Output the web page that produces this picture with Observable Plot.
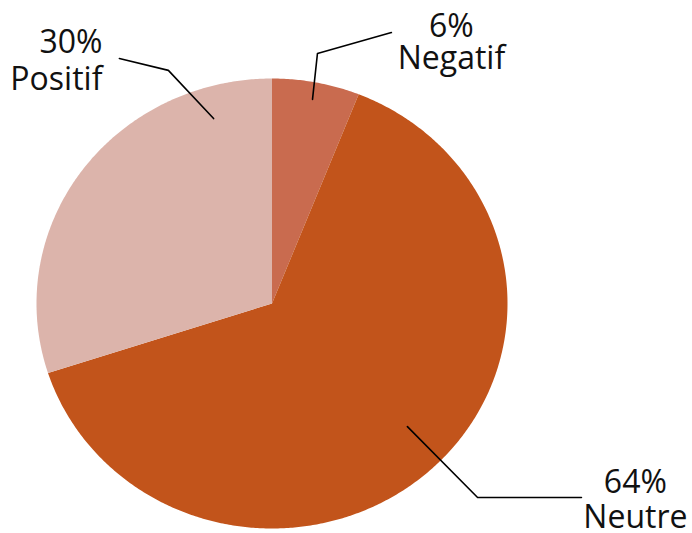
<!DOCTYPE html>
<html>
<head>
<meta charset="utf-8">
<script src="https://cdn.jsdelivr.net/npm/d3@7"></script>
<script src="https://cdn.jsdelivr.net/npm/@observablehq/plot@0.6"></script>
<style>
  html, body { margin: 0; padding: 0; background: #ffffff; }
  #chart svg { display: block; }
</style>
</head>
<body>
<div id="chart"></div>
<script>
// ---- data ----
const categories = ["Negatif", "Neutre", "Positif"];
const shares = [6, 64, 30];
const percentLabels = ["6%", "64%", "30%"];
const sliceColors = ["#c96b4f", "#c2541b", "#dcb4ab"];

// ---- layout for callouts (in pie units: radius = 1, y up) ----
const leaderLayout = [
  { name: "Negatif", pts: [[0.172, 0.907], [0.193, 1.111], [0.507, 1.204]], lab: [0.762, 1.044], anchor: "middle", lh: 1.0 },
  { name: "Neutre",  pts: [[0.575, -0.547], [0.873, -0.862], [1.314, -0.862]], lab: [1.543, -0.996], anchor: "middle", lh: 1.094 },
  { name: "Positif", pts: [[-0.248, 0.822], [-0.44, 1.036], [-0.648, 1.089]], lab: [-0.72, 0.947], anchor: "end", lh: 1.156 }
];

// ---- build slice polygons from the shares ----
const total = d3.sum(shares);
const slices = [];
let acc = 0;
categories.forEach((name, i) => {
  const a0 = acc / total * 2 * Math.PI;
  acc += shares[i];
  const a1 = acc / total * 2 * Math.PI;
  const n = Math.max(2, Math.ceil((a1 - a0) / (Math.PI / 360)));
  slices.push({ name, x: 0, y: 0 });
  for (let k = 0; k <= n; k++) {
    const a = a0 + (a1 - a0) * k / n;
    slices.push({ name, x: Math.sin(a), y: Math.cos(a) });
  }
  slices.push({ name, x: 0, y: 0 });
});

const leaderPts = leaderLayout.flatMap(d => d.pts.map(([x, y]) => ({ name: d.name, x, y })));

const labelMarks = leaderLayout.map(d => {
  const i = categories.indexOf(d.name);
  return Plot.text([{ x: d.lab[0], y: d.lab[1], text: percentLabels[i] + "\n" + d.name }], {
    x: "x", y: "y", text: "text", fontSize: 32, fill: "#111",
    textAnchor: d.anchor, lineAnchor: "bottom", lineHeight: d.lh
  });
});

const chart = Plot.plot({
  width: 692,
  height: 533,
  margin: 0,
  x: { domain: [-1, 1], range: [36, 507], axis: null },
  y: { domain: [-1, 1], range: [528, 78], axis: null },
  color: { domain: categories, range: sliceColors },
  style: { fontFamily: "'Open Sans', sans-serif", background: "#ffffff" },
  marks: [
    Plot.line(slices, { x: "x", y: "y", z: "name", fill: "name", stroke: "none", curve: "linear" }),
    Plot.line(leaderPts, { x: "x", y: "y", z: "name", stroke: "#000", strokeWidth: 1.6, curve: "linear" }),
    ...labelMarks
  ]
});
document.getElementById("chart").appendChild(chart);
</script>
</body>
</html>
